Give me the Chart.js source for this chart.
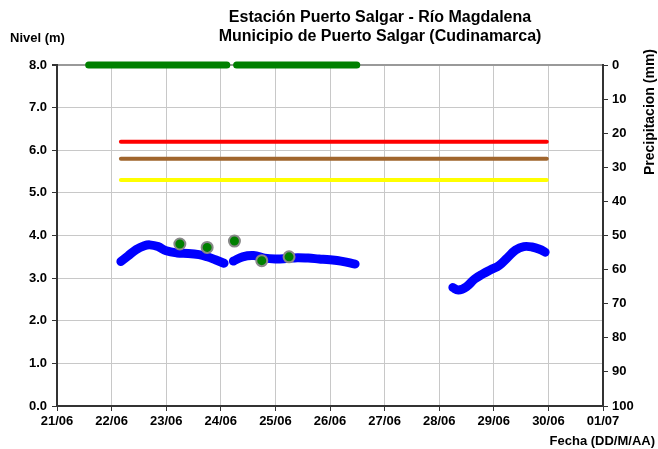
<!DOCTYPE html>
<html>
<head>
<meta charset="utf-8">
<script src="https://cdn.jsdelivr.net/npm/chart.js@4"></script>
<style>
  html, body { margin: 0; padding: 0; background: #fff; }
  #wrap { width: 658px; height: 449px; }
</style>
</head>
<body>
<div id="wrap"><canvas id="grafico"></canvas></div>
<script>
// dias (21 = 21/06 00:00, 31 = 01/07 00:00)
const nivelFechas = [
  22.17, 22.3, 22.45, 22.6, 22.7, 22.85, 23.0, 23.2, 23.4, 23.6, 23.75, 23.9, 24.06,
  24.12,
  24.23, 24.4, 24.6, 24.8, 25.0, 25.2, 25.4, 25.6, 25.8, 26.0, 26.2, 26.46,
  27.5,
  28.25, 28.35, 28.5, 28.65, 28.8, 28.95, 29.1, 29.25, 29.4, 29.55, 29.7, 29.85, 29.94
];
const nivelValores = [
  3.39, 3.52, 3.67, 3.76, 3.78, 3.74, 3.64, 3.59, 3.58, 3.55, 3.50, 3.43, 3.35,
  null,
  3.40, 3.50, 3.53, 3.47, 3.45, 3.46, 3.48, 3.47, 3.45, 3.43, 3.40, 3.33,
  null,
  2.78, 2.72, 2.80, 2.98, 3.10, 3.20, 3.30, 3.48, 3.66, 3.74, 3.73, 3.67, 3.61
];

const manualFechas = [23.25, 23.75, 24.25, 24.75, 25.25];
const manualValores = [3.80, 3.72, 3.87, 3.41, 3.50];

const precipFechas = [21.58, 22, 23, 24, 24.11, 24.2, 24.29, 25, 26, 26.49];
const precipValores = [0, 0, 0, 0, 0, null, 0, 0, 0, 0];

const umbralFechas = [22.17, 29.97];
const umbralRojo = 6.2;
const umbralNaranja = 5.8;
const umbralAmarillo = 5.3;

const fechaTicks = ["21/06", "22/06", "23/06", "24/06", "25/06", "26/06",
  "27/06", "28/06", "29/06", "30/06", "01/07"];

const pares = (xs, ys) => xs.map((x, i) => ({ x: x, y: ys[i] }));
const constante = (xs, v) => xs.map(x => ({ x: x, y: v }));

const fuente = { family: "'Liberation Sans', Arial, sans-serif", weight: "bold", size: 13 };

const textos = {
  id: "textos",
  afterDraw(chart) {
    const c = chart.ctx;
    c.save();
    c.fillStyle = "#000";
    c.textBaseline = "middle";
    c.textAlign = "center";
    c.font = "bold 16px 'Liberation Sans', Arial, sans-serif";
    c.fillText("Estación Puerto Salgar - Río Magdalena", 380, 18);
    c.fillText("Municipio de Puerto Salgar (Cudinamarca)", 380, 37);
    c.font = "bold 13px 'Liberation Sans', Arial, sans-serif";
    c.textAlign = "left";
    c.fillText("Nivel (m)", 10, 38);
    c.textAlign = "right";
    c.fillText("Fecha (DD/M/AA)", 655, 441);
    c.font = "bold 14px 'Liberation Sans', Arial, sans-serif";
    c.translate(650, 112);
    c.rotate(-Math.PI / 2);
    c.textAlign = "center";
    c.fillText("Precipitacion (mm)", 0, 0);
    c.restore();
  }
};

new Chart(document.getElementById("grafico"), {
  type: "line",
  data: {
    datasets: [
      {
        label: "Nivel manual",
        data: pares(manualFechas, manualValores),
        yAxisID: "y",
        showLine: false,
        pointRadius: 5.5,
        pointBackgroundColor: "#008000",
        pointBorderColor: "#888888",
        pointBorderWidth: 2,
      },
      {
        label: "Nivel",
        data: pares(nivelFechas, nivelValores),
        yAxisID: "y",
        borderColor: "#0000ff",
        borderWidth: 9,
        borderCapStyle: "round",
        borderJoinStyle: "round",
        tension: 0.4,
        pointRadius: 0,
        spanGaps: false,
      },
      {
        label: "Precipitacion",
        data: pares(precipFechas, precipValores),
        yAxisID: "y2",
        borderColor: "#008000",
        borderWidth: 7,
        borderCapStyle: "round",
        pointRadius: 0,
        spanGaps: false,
        clip: false,
      },
      {
        label: "Rojo",
        data: constante(umbralFechas, umbralRojo),
        yAxisID: "y",
        borderColor: "#ff0000",
        borderWidth: 4,
        borderCapStyle: "round",
        pointRadius: 0,
      },
      {
        label: "Naranja",
        data: constante(umbralFechas, umbralNaranja),
        yAxisID: "y",
        borderColor: "#a0652d",
        borderWidth: 4,
        borderCapStyle: "round",
        pointRadius: 0,
      },
      {
        label: "Amarillo",
        data: constante(umbralFechas, umbralAmarillo),
        yAxisID: "y",
        borderColor: "#ffff00",
        borderWidth: 4,
        borderCapStyle: "round",
        pointRadius: 0,
      },
    ],
  },
  options: {
    responsive: true,
    maintainAspectRatio: false,
    animation: false,
    layout: { padding: { top: 65, left: 0, right: 0, bottom: 0 } },
    plugins: {
      legend: { display: false },
      tooltip: { enabled: false },
    },
    scales: {
      x: {
        type: "linear",
        min: 21,
        max: 31,
        afterFit(s) { s.height = 43; },
        afterBuildTicks(s) { s.ticks = fechaTicks.map((t, i) => ({ value: 21 + i })); },
        ticks: {
          color: "#000",
          font: fuente,
          padding: 3,
          maxRotation: 0,
          autoSkip: false,
          callback: (v, i) => fechaTicks[i],
        },
        grid: { color: "#c8c8c8", tickColor: "#333", tickLength: 5 },
        border: { color: "#333", width: 2 },
      },
      y: {
        position: "left",
        min: 0,
        max: 8,
        afterFit(s) { s.width = 57; },
        ticks: {
          stepSize: 1,
          color: "#000",
          font: fuente,
          padding: 5,
          callback: v => v.toFixed(1),
        },
        grid: {
          color: c => (c.tick && c.tick.value === 8 ? "#999" : "#c8c8c8"),
          lineWidth: c => (c.tick && c.tick.value === 8 ? 2 : 1),
          tickColor: "#333",
          tickLength: 5,
        },
        border: { color: "#333", width: 2 },
      },
      y2: {
        position: "right",
        reverse: true,
        min: 0,
        max: 100,
        afterFit(s) { s.width = 55; },
        ticks: {
          stepSize: 10,
          color: "#000",
          font: fuente,
          padding: 4,
        },
        grid: { drawOnChartArea: false, tickColor: "#333", tickLength: 5 },
        border: { color: "#333", width: 2 },
      },
    },
  },
  plugins: [textos],
});
</script>
</body>
</html>
